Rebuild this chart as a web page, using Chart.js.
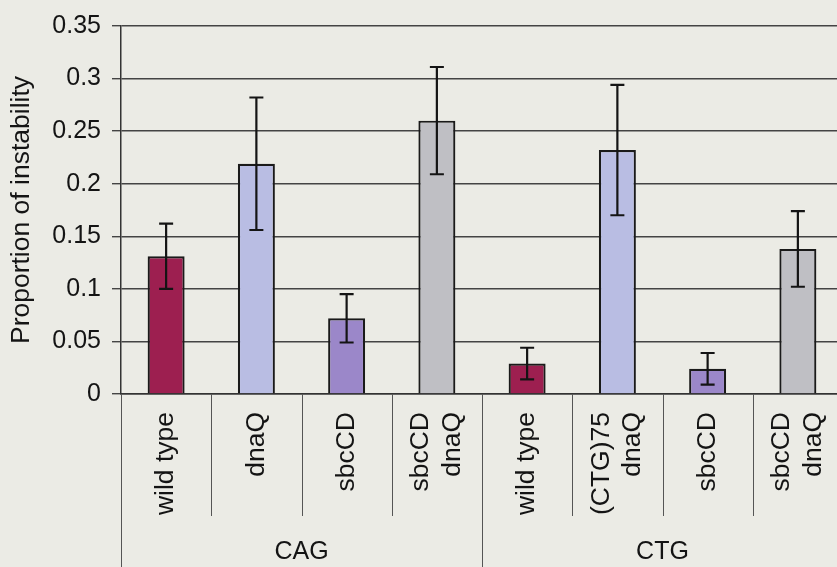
<!DOCTYPE html>
<html>
<head>
<meta charset="utf-8">
<script src="https://cdn.jsdelivr.net/npm/chart.js@4"></script>
<style>
  html, body { margin: 0; padding: 0; overflow: hidden; background: #ebebe5; }
  canvas { display: block; }
</style>
</head>
<body>
<canvas id="instabilityChart" width="850" height="567"></canvas>
<script>
// data
const categories = [
  ['wild type'], ['dnaQ'], ['sbcCD'], ['sbcCD', 'dnaQ'],
  ['wild type'], ['(CTG)75', 'dnaQ'], ['sbcCD'], ['sbcCD', 'dnaQ']
];
const groups = ['CAG', 'CTG'];
const groupSize = [4, 4];
const values = [0.131, 0.219, 0.072, 0.260, 0.029, 0.232, 0.024, 0.138];
const errors = [0.031, 0.063, 0.023, 0.051, 0.015, 0.062, 0.015, 0.036];
const yTickLabels = ['0', '0.05', '0.1', '0.15', '0.2', '0.25', '0.3', '0.35'];

const barColors = ['#9d1f50', '#b9bde3', '#9b87c9', '#bfbfc4', '#9d1f50', '#b9bde3', '#9b87c9', '#bfbfc4'];
const fontFamily = '"Liberation Sans", Arial, sans-serif';
const textColor = '#141414';

// error bars on top of the bars
const errorBars = {
  id: 'errorBars',
  afterDatasetsDraw(chart) {
    const ctx = chart.ctx;
    const y = chart.scales.y;
    const meta = chart.getDatasetMeta(0);
    ctx.save();
    ctx.strokeStyle = '#141414';
    ctx.lineWidth = 2.2;
    meta.data.forEach((bar, i) => {
      const top = y.getPixelForValue(values[i] + errors[i]);
      const bot = y.getPixelForValue(values[i] - errors[i]);
      ctx.beginPath();
      ctx.moveTo(bar.x, top); ctx.lineTo(bar.x, bot);
      ctx.moveTo(bar.x - 7, top); ctx.lineTo(bar.x + 7, top);
      ctx.moveTo(bar.x - 7, bot); ctx.lineTo(bar.x + 7, bot);
      ctx.stroke();
    });
    ctx.restore();
  }
};

// two-level category axis: rotated labels, separators and group names
const groupAxis = {
  id: 'groupAxis',
  afterDraw(chart) {
    const ctx = chart.ctx;
    const x = chart.scales.x;
    const area = chart.chartArea;
    const half = (x.getPixelForValue(1) - x.getPixelForValue(0)) / 2;
    const base = area.bottom;
    ctx.save();
    ctx.strokeStyle = '#555';
    ctx.lineWidth = 1;
    // category separators
    for (let i = 0; i <= categories.length; i++) {
      const px = Math.round(x.getPixelForValue(i) - half) + 0.5;
      ctx.beginPath();
      ctx.moveTo(px, base);
      ctx.lineTo(px, base + 122);
      ctx.stroke();
    }
    // group separators, full height
    let start = 0;
    ctx.fillStyle = textColor;
    ctx.font = '25px ' + fontFamily;
    ctx.textAlign = 'center';
    ctx.textBaseline = 'middle';
    groups.forEach((g, gi) => {
      const left = x.getPixelForValue(start) - half;
      const right = x.getPixelForValue(start + groupSize[gi] - 1) + half;
      [left, right].forEach(px => {
        ctx.beginPath();
        ctx.moveTo(Math.round(px) + 0.5, base);
        ctx.lineTo(Math.round(px) + 0.5, chart.height);
        ctx.stroke();
      });
      ctx.fillText(g, (left + right) / 2, base + 158);
      start += groupSize[gi];
    });
    // rotated category labels
    ctx.font = '26.5px ' + fontFamily;
    ctx.textAlign = 'right';
    categories.forEach((lines, i) => {
      const cx = x.getPixelForValue(i);
      const lh = 31.5;
      lines.forEach((txt, li) => {
        const off = (li - (lines.length - 1) / 2) * lh;
        ctx.save();
        ctx.translate(cx + off, base + 18);
        ctx.rotate(-Math.PI / 2);
        ctx.fillText(txt, 0, 0);
        ctx.restore();
      });
    });
    ctx.restore();
  }
};

const ctx = document.getElementById('instabilityChart').getContext('2d');
new Chart(ctx, {
  type: 'bar',
  data: {
    labels: categories.map(c => c.join(' ')),
    datasets: [{
      data: values,
      backgroundColor: barColors,
      borderColor: '#1a1a1a',
      borderWidth: 2.2,
      barPercentage: 0.41,
      categoryPercentage: 1
    }]
  },
  options: {
    responsive: false,
    animation: false,
    layout: { padding: { top: 25, right: 7, left: 0, bottom: 0 } },
    plugins: {
      legend: { display: false },
      tooltip: { enabled: false }
    },
    scales: {
      x: {
        grid: { display: false },
        border: { display: true, color: '#333', width: 1.5 },
        ticks: { display: false },
        afterFit(scale) { scale.height = 173; }
      },
      y: {
        min: 0,
        max: 0.35,
        ticks: {
          stepSize: 0.05,
          padding: 11,
          color: textColor,
          font: { family: fontFamily, size: 25 },
          callback: (v, i) => yTickLabels[i]
        },
        grid: { color: '#444', lineWidth: 1.4, tickLength: 9 },
        border: { color: '#333', width: 1.5 },
        title: {
          display: true,
          text: 'Proportion of instability',
          color: textColor,
          font: { family: fontFamily, size: 26.5 },
          padding: { top: 6, bottom: 0 }
        },
        afterFit(scale) { scale.width = 121; }
      }
    }
  },
  plugins: [errorBars, groupAxis]
});
</script>
</body>
</html>
